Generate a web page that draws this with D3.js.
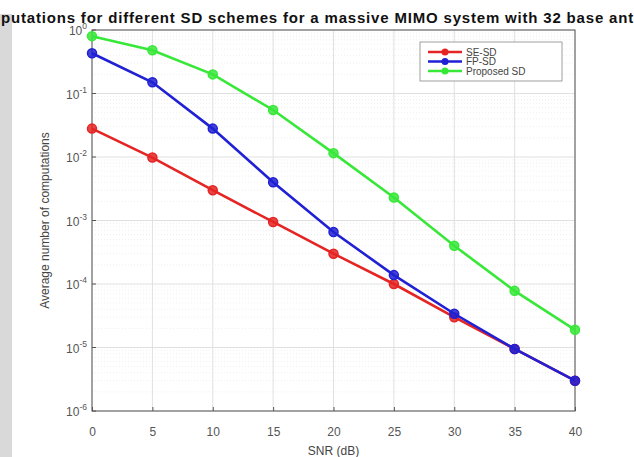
<!doctype html>
<html>
<head>
<meta charset="utf-8">
<title>Average number of computations</title>
<script src="https://cdnjs.cloudflare.com/ajax/libs/d3/7.8.5/d3.min.js"></script>
<style>
  body { margin: 0; background: #fff; }
  svg text { font-family: "Liberation Sans", Arial, sans-serif; }
</style>
</head>
<body>
<svg width="634" height="457"></svg>
<script>
// data
var snr = [0, 5, 10, 15, 20, 25, 30, 35, 40];
var seSD = [0.028, 0.0098, 0.003, 0.00095, 0.0003, 0.0001, 0.00003, 0.0000095, 0.000003];
var fpSD = [0.43, 0.15, 0.028, 0.004, 0.00066, 0.000138, 0.000034, 0.0000095, 0.000003];
var propSD = [0.8, 0.48, 0.2, 0.055, 0.0115, 0.0023, 0.0004, 0.000078, 0.000019];
var seriesNames = ["SE-SD", "FP-SD", "Proposed SD"];
var seriesColors = ["#e52424", "#2020d4", "#38e838"];
var xTicks = [0, 5, 10, 15, 20, 25, 30, 35, 40];
var yExps = [0, -1, -2, -3, -4, -5, -6];
var titleText = "Average number of computations for different SD schemes for a massive MIMO system with 32 base antennas";

var svg = d3.select("svg");
var m = {left: 92, right: 59, top: 30, bottom: 46};
var W = 634, H = 457;

var x = d3.scaleLinear().domain([0, 40]).range([m.left, W - m.right]);
var y = d3.scaleLog().domain([1e-6, 1]).range([H - m.bottom, m.top]);

// gray strip on the left of the picture
svg.append("rect").attr("x", 0).attr("y", 14).attr("width", 12).attr("height", H - 14).attr("fill", "#d9d9d9");

// minor grid (log)
var minor = [];
for (var e = -6; e < 0; e++) for (var k = 2; k <= 9; k++) minor.push(k * Math.pow(10, e));
svg.append("g").selectAll("line").data(minor).join("line")
  .attr("x1", m.left).attr("x2", W - m.right)
  .attr("y1", d => y(d)).attr("y2", d => y(d))
  .attr("stroke", "#e4e4e4").attr("stroke-width", 0.6).attr("stroke-dasharray", "1,2");

// major grid
svg.append("g").selectAll("line").data(xTicks).join("line")
  .attr("x1", d => x(d)).attr("x2", d => x(d))
  .attr("y1", m.top).attr("y2", H - m.bottom)
  .attr("stroke", "#e0e0e0").attr("stroke-width", 1);
svg.append("g").selectAll("line").data(yExps).join("line")
  .attr("x1", m.left).attr("x2", W - m.right)
  .attr("y1", d => y(Math.pow(10, d))).attr("y2", d => y(Math.pow(10, d)))
  .attr("stroke", "#e0e0e0").attr("stroke-width", 1);

// axes box
svg.append("rect").attr("x", m.left).attr("y", m.top)
  .attr("width", W - m.right - m.left).attr("height", H - m.bottom - m.top)
  .attr("fill", "none").attr("stroke", "#555").attr("stroke-width", 1);

// x tick labels
var xAxis = d3.axisBottom(x).tickValues(xTicks).tickSize(4).tickPadding(12);
var gx = svg.append("g").attr("transform", "translate(0," + (H - m.bottom) + ")").call(xAxis);
gx.select(".domain").remove();
gx.selectAll(".tick line").attr("y2", -4).attr("stroke", "#555");
gx.selectAll("text").attr("fill", "#555").attr("font-size", 12).attr("font-family", "Liberation Sans, Arial, sans-serif");

// y tick labels
var gy = svg.append("g");
var yt = gy.selectAll("g").data(yExps).join("g")
  .attr("transform", d => "translate(" + (m.left - 5) + "," + (y(Math.pow(10, d)) + 5) + ")");
var ytext = yt.append("text").attr("text-anchor", "end").attr("fill", "#555").attr("font-size", 12);
ytext.append("tspan").text("10");
ytext.append("tspan").attr("dy", -6).attr("font-size", 8.5).text(d => d === 0 ? "0" : "-" + (-d));
gy.selectAll("line").data(yExps).join("line")
  .attr("x1", m.left).attr("x2", m.left + 4)
  .attr("y1", d => y(Math.pow(10, d))).attr("y2", d => y(Math.pow(10, d)))
  .attr("stroke", "#555");

// lines and markers
var allSeries = [seSD, fpSD, propSD];
var line = d3.line().x((d, i) => x(snr[i])).y(d => y(d));
allSeries.forEach(function(vals, s) {
  svg.append("path").datum(vals).attr("d", line)
    .attr("fill", "none").attr("stroke", seriesColors[s]).attr("stroke-width", 2.6);
  svg.append("g").selectAll("circle").data(vals).join("circle")
    .attr("cx", (d, i) => x(snr[i])).attr("cy", d => y(d)).attr("r", 4.5)
    .attr("fill", seriesColors[s]).attr("fill-opacity", 0.85)
    .attr("stroke", seriesColors[s]).attr("stroke-width", 1.5);
});

// legend
var lg = svg.append("g").attr("transform", "translate(420,42)");
lg.append("rect").attr("width", 142).attr("height", 39).attr("fill", "#fff").attr("stroke", "#888").attr("stroke-width", 0.8);
seriesNames.forEach(function(name, i) {
  var yy = 10 + i * 9.5;
  lg.append("line").attr("x1", 8).attr("x2", 42).attr("y1", yy).attr("y2", yy)
    .attr("stroke", seriesColors[i]).attr("stroke-width", 2.4);
  lg.append("circle").attr("cx", 25).attr("cy", yy).attr("r", 3.5).attr("fill", seriesColors[i]);
  lg.append("text").attr("x", 46).attr("y", yy + 3.5).attr("font-size", 10).attr("fill", "#444").text(name);
});

// title: the reference is cropped so that "putations" starts at the left edge
// and "...base ant" ends at the right edge
var title = svg.append("text").attr("y", 23).attr("font-size", 15).attr("font-weight", "bold").attr("fill", "#111")
  .text(titleText);
var node = title.node();
var cut = titleText.indexOf("putations");
var end = titleText.indexOf("antennas") + 3;
var pre = node.getSubStringLength(0, cut);
var vis = node.getSubStringLength(cut, end - cut);
var ls = (633 - vis) / (end - cut);
title.attr("letter-spacing", ls).attr("x", 1 - pre - cut * ls);

svg.append("text").attr("x", (m.left + W - m.right) / 2).attr("y", 455)
  .attr("text-anchor", "middle").attr("font-size", 12).attr("fill", "#444").text("SNR (dB)");
svg.append("text").attr("transform", "translate(49," + ((m.top + H - m.bottom) / 2) + ") rotate(-90)")
  .attr("text-anchor", "middle").attr("font-size", 12).attr("fill", "#444").text("Average number of computations");
</script>
</body>
</html>
